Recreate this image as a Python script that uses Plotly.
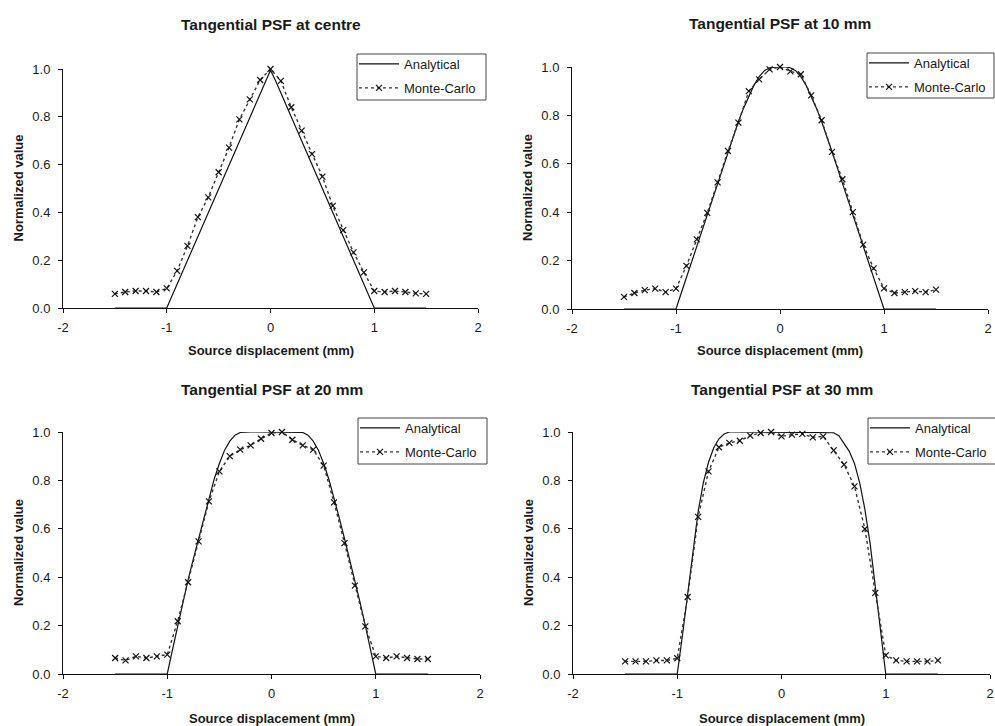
import plotly.graph_objects as go

# ---------------- data ----------------
MC_X = [-1.5, -1.4, -1.3, -1.2, -1.1, -1.0, -0.9, -0.8, -0.7, -0.6, -0.5, -0.4, -0.3, -0.2, -0.1,
        0.0, 0.1, 0.2, 0.3, 0.4, 0.5, 0.6, 0.7, 0.8, 0.9, 1.0, 1.1, 1.2, 1.3, 1.4, 1.5]

AN_X = [-1.5, -1.0, -0.95, -0.9, -0.85, -0.8, -0.75, -0.7, -0.65, -0.6, -0.55, -0.5, -0.45, -0.4,
        -0.35, -0.3, -0.25, -0.2, -0.15, -0.1, -0.05, 0.0, 0.05, 0.1, 0.15, 0.2, 0.25, 0.3, 0.35,
        0.4, 0.45, 0.5, 0.55, 0.6, 0.65, 0.7, 0.75, 0.8, 0.85, 0.9, 0.95, 1.0, 1.5]

titles = ["Tangential PSF at centre", "Tangential PSF at 10 mm",
          "Tangential PSF at 20 mm", "Tangential PSF at 30 mm"]

an_centre = [0, 0, 0.05, 0.10, 0.15, 0.20, 0.25, 0.30, 0.35, 0.40, 0.45, 0.50, 0.55, 0.60,
             0.65, 0.70, 0.75, 0.80, 0.85, 0.90, 0.95, 0.995, 0.95, 0.90, 0.85, 0.80, 0.75, 0.70, 0.65,
             0.60, 0.55, 0.50, 0.45, 0.40, 0.35, 0.30, 0.25, 0.20, 0.15, 0.10, 0.05, 0, 0]
mc_centre = [0.059, 0.067, 0.071, 0.071, 0.067, 0.082, 0.155, 0.26, 0.38, 0.463, 0.568, 0.671,
             0.789, 0.873, 0.954, 1.0, 0.95, 0.84, 0.742, 0.644, 0.55, 0.427, 0.326, 0.233,
             0.149, 0.071, 0.067, 0.071, 0.067, 0.061, 0.059]

an_10 = [0, 0, 0.065, 0.13, 0.195, 0.26, 0.325, 0.39, 0.455, 0.52, 0.585, 0.65, 0.715, 0.775,
         0.83, 0.88, 0.925, 0.96, 0.985, 0.997, 1.0, 1.0, 1.0, 0.997, 0.985, 0.96, 0.925, 0.88, 0.83,
         0.775, 0.715, 0.65, 0.585, 0.52, 0.455, 0.39, 0.325, 0.26, 0.195, 0.13, 0.065, 0, 0]
mc_10 = [0.05, 0.066, 0.078, 0.084, 0.07, 0.084, 0.178, 0.288, 0.397, 0.523, 0.653, 0.77, 0.90,
         0.949, 0.99, 1.0, 0.982, 0.97, 0.883, 0.78, 0.649, 0.536, 0.40, 0.266, 0.168, 0.085,
         0.066, 0.07, 0.074, 0.07, 0.08]

an_20 = [0, 0, 0.10, 0.20, 0.295, 0.39, 0.475, 0.56, 0.645, 0.73, 0.805, 0.87, 0.925, 0.962,
         0.987, 0.998, 1.0, 1.0, 1.0, 1.0, 1.0, 1.0, 1.0, 1.0, 1.0, 1.0, 1.0, 0.998, 0.987,
         0.962, 0.925, 0.87, 0.805, 0.73, 0.645, 0.56, 0.475, 0.39, 0.295, 0.20, 0.10, 0, 0]
mc_20 = [0.066, 0.056, 0.073, 0.066, 0.073, 0.08, 0.218, 0.379, 0.548, 0.713, 0.837, 0.90, 0.927,
         0.945, 0.972, 0.996, 1.0, 0.968, 0.945, 0.927, 0.861, 0.709, 0.541, 0.365, 0.197, 0.073,
         0.066, 0.073, 0.066, 0.062, 0.062]

an_30 = [0, 0, 0.16, 0.33, 0.51, 0.67, 0.79, 0.875, 0.935, 0.972, 0.992, 1.0, 1.0, 1.0,
         1.0, 1.0, 1.0, 1.0, 1.0, 1.0, 1.0, 1.0, 1.0, 1.0, 1.0, 1.0, 1.0, 1.0, 1.0,
         1.0, 1.0, 0.997, 0.985, 0.955, 0.92, 0.87, 0.79, 0.68, 0.54, 0.36, 0.18, 0, 0]
mc_30 = [0.052, 0.052, 0.052, 0.056, 0.056, 0.065, 0.318, 0.649, 0.837, 0.937, 0.955, 0.964, 0.985,
         0.996, 1.0, 0.982, 0.989, 0.992, 0.978, 0.982, 0.924, 0.865, 0.775, 0.599, 0.335, 0.077,
         0.056, 0.052, 0.052, 0.052, 0.056]

analytical = [an_centre, an_10, an_20, an_30]
montecarlo = [mc_centre, mc_10, mc_20, mc_30]

x_ticks = [-2, -1, 0, 1, 2]
y_ticks = [0.0, 0.2, 0.4, 0.6, 0.8, 1.0]

# ---------------- layout geometry (pixels) ----------------
W, H = 995, 726
FONT = "Liberation Sans, Arial, sans-serif"
TXT = "#1a1a1a"

# (left, right, top(y=1), bottom(y=0)) in pixels
panels = [(63, 478, 69, 308), (572, 988, 67, 309), (63, 480, 432, 674), (573, 990, 432, 674)]
# legend frame boxes (x0, y0, x1, y1) in pixels
legend_box = [(357, 54, 486, 100), (867, 53, 994, 98), (358, 418, 487, 464), (868, 418, 1000, 464)]
title_y = [24, 23, 389, 389]
xtitle_y = [350, 350, 718, 718]
ytitle_x = [18, 528, 18, 528]

fig = go.Figure()
layout = dict(
    width=W, height=H, margin=dict(l=0, r=0, t=0, b=0, autoexpand=False),
    paper_bgcolor="white", plot_bgcolor="white",
    font=dict(family=FONT, size=13, color=TXT),
    annotations=[], shapes=[],
)

for i in range(4):
    ax = "" if i == 0 else str(i + 1)
    lg = "legend" if i == 0 else f"legend{i+1}"
    fig.add_trace(go.Scatter(
        x=AN_X, y=analytical[i], mode="lines", name="Analytical",
        line=dict(color="#111111", width=1.2), xaxis="x" + ax, yaxis="y" + ax,
        legend=lg, legendgroup=f"a{i}", cliponaxis=False))
    fig.add_trace(go.Scatter(
        x=MC_X, y=montecarlo[i], mode="lines+markers", name="Monte-Carlo",
        line=dict(color="#333333", width=1.4, dash="dot"),
        marker=dict(symbol="x-thin", size=6, line=dict(width=1.2, color="#111111"), color="#111111"),
        xaxis="x" + ax, yaxis="y" + ax, legend=lg, legendgroup=f"m{i}", cliponaxis=False))

    l, r, t, b = panels[i]
    xd = [l / W, r / W]
    yd = [(H - b) / H, (H - t) / H]
    layout["xaxis" + ax] = dict(
        domain=xd, range=[-2, 2], tickvals=x_ticks, ticktext=[str(v) for v in x_ticks],
        showline=True, linecolor="#111111", linewidth=1, ticks="outside", ticklen=4,
        tickcolor="#111111", showgrid=False, zeroline=False, anchor="y" + ax,
        ticklabelstandoff=3,
        tickfont=dict(family=FONT, size=13, color=TXT), fixedrange=True)
    layout["yaxis" + ax] = dict(
        domain=yd, range=[0, 1], tickvals=y_ticks, ticktext=[f"{v:.1f}" for v in y_ticks],
        showline=True, linecolor="#111111", linewidth=1, ticks="outside", ticklen=4,
        tickcolor="#111111", showgrid=False, zeroline=False, anchor="x" + ax,
        ticklabelstandoff=5,
        tickfont=dict(family=FONT, size=13, color=TXT), fixedrange=True)

    bx0, by0, bx1, by1 = legend_box[i]
    layout["shapes"].append(dict(
        type="rect", xref="paper", yref="paper", layer="above",
        x0=bx0 / W, x1=bx1 / W, y0=1 - by0 / H, y1=1 - by1 / H,
        fillcolor="white", line=dict(color="#444444", width=1)))
    layout[lg] = dict(
        x=(bx0 - 3) / W, y=1 - (by0 - 5) / H, xanchor="left", yanchor="top",
        bgcolor="rgba(0,0,0,0)", borderwidth=0, itemwidth=40,
        font=dict(family=FONT, size=13, color=TXT), tracegroupgap=4,
        itemclick=False, itemdoubleclick=False)
    layout["annotations"].append(dict(
        text=f"<b>{titles[i]}</b>", x=(l + r) / 2 / W, y=1 - title_y[i] / H,
        xref="paper", yref="paper", showarrow=False, xanchor="center", yanchor="middle",
        font=dict(family=FONT, size=15.5, color=TXT)))
    layout["annotations"].append(dict(
        text="<b>Source displacement (mm)</b>", x=(l + r) / 2 / W, y=1 - xtitle_y[i] / H,
        xref="paper", yref="paper", showarrow=False, xanchor="center", yanchor="middle",
        font=dict(family=FONT, size=13, color=TXT)))
    layout["annotations"].append(dict(
        text="<b>Normalized value</b>", x=ytitle_x[i] / W, y=1 - (t + b) / 2 / H,
        xref="paper", yref="paper", showarrow=False, xanchor="center", yanchor="middle",
        textangle=-90, font=dict(family=FONT, size=13, color=TXT)))

fig.update_layout(**layout)
fig.write_html("out.html")
